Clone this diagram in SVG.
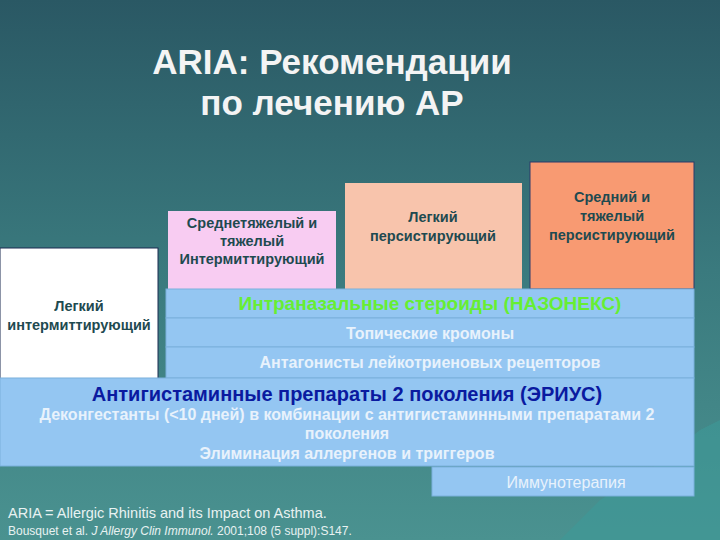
<svg xmlns="http://www.w3.org/2000/svg" width="720" height="540" viewBox="0 0 720 540">
<defs>
<linearGradient id="bg" x1="0" y1="0" x2="0" y2="1"><stop offset="0" stop-color="#2a5864"/><stop offset="0.5" stop-color="#3a7a7e"/><stop offset="1" stop-color="#4a9290"/></linearGradient>
<style>
text{font-family:"Liberation Sans",Arial,sans-serif;text-anchor:middle}
.t{font-size:14.5px;font-weight:bold;fill:#1e4a50}
.band{fill:#94c6f2;stroke:#7ab0dc;stroke-width:1}
.w{fill:#e8f2fc;font-size:16px;font-weight:bold}
</style>
</defs>
<rect width="720" height="540" fill="url(#bg)"/>
<path d="M560 540 L600 500 L650 470 L700 430 L720 420 L720 540 Z" fill="#3d9a98" opacity="0.6"/>
<g id="title"><text x="332" y="74" font-size="35" fill="#f4f4f4" font-weight="bold">ARIA: Рекомендации</text><text x="332" y="115" font-size="35" fill="#f4f4f4" font-weight="bold">по лечению АР</text></g>
<g id="n1"><rect x="0" y="248" width="158" height="132" fill="#ffffff" stroke="#1a2a50"/><text class="t" x="79" y="311">Легкий</text><text class="t" x="79" y="330">интермиттирующий</text></g>
<g id="n2"><rect x="168" y="211" width="168" height="78" fill="#f8ccf2"/><text class="t" x="252" y="228">Среднетяжелый и</text><text class="t" x="252" y="246">тяжелый</text><text class="t" x="252" y="264">Интермиттирующий</text></g>
<g id="n3"><rect x="345" y="183" width="177" height="106" fill="#f8c4ac"/><text class="t" x="433" y="222">Легкий</text><text class="t" x="433" y="241">персистирующий</text></g>
<g id="n4"><rect x="530" y="162" width="164" height="127" fill="#f89a72" stroke="#2a3a6a"/><text class="t" x="612" y="202">Средний и</text><text class="t" x="612" y="221">тяжелый</text><text class="t" x="612" y="240">персистирующий</text></g>
<g id="bands">
<rect class="band" x="166" y="289" width="528" height="29"/><text x="430" y="310" font-size="19" font-weight="bold" fill="#66ee33">Интраназальные стероиды (НАЗОНЕКС)</text>
<rect class="band" x="166" y="318" width="528" height="29"/><text class="w" x="430" y="339">Топические кромоны</text>
<rect class="band" x="166" y="347" width="528" height="31"/><text class="w" x="430" y="368">Антагонисты лейкотриеновых рецепторов</text>
<rect class="band" x="0" y="378" width="694" height="88"/>
<text x="347" y="401" font-size="20" font-weight="bold" fill="#0a1aa0">Антигистаминные препараты 2 поколения (ЭРИУС)</text>
<text class="w" x="347" y="420">Деконгестанты (&lt;10 дней) в комбинации с антигистаминными препаратами 2</text>
<text class="w" x="347" y="439">поколения</text>
<text class="w" x="347" y="459">Элиминация аллергенов и триггеров</text>
<rect class="band" x="432" y="467" width="262" height="29"/><text x="566" y="488" font-size="16" fill="#e8f2fc">Иммунотерапия</text>
</g>
<g id="foot" fill="#e8f2f2"><text x="8" y="518" font-size="14.5" style="text-anchor:start">ARIA = Allergic Rhinitis and its Impact on Asthma.</text><text x="8" y="535" font-size="12" style="text-anchor:start">Bousquet et al. <tspan font-style="italic">J Allergy Clin Immunol.</tspan> 2001;108 (5 suppl):S147.</text></g>
</svg>
